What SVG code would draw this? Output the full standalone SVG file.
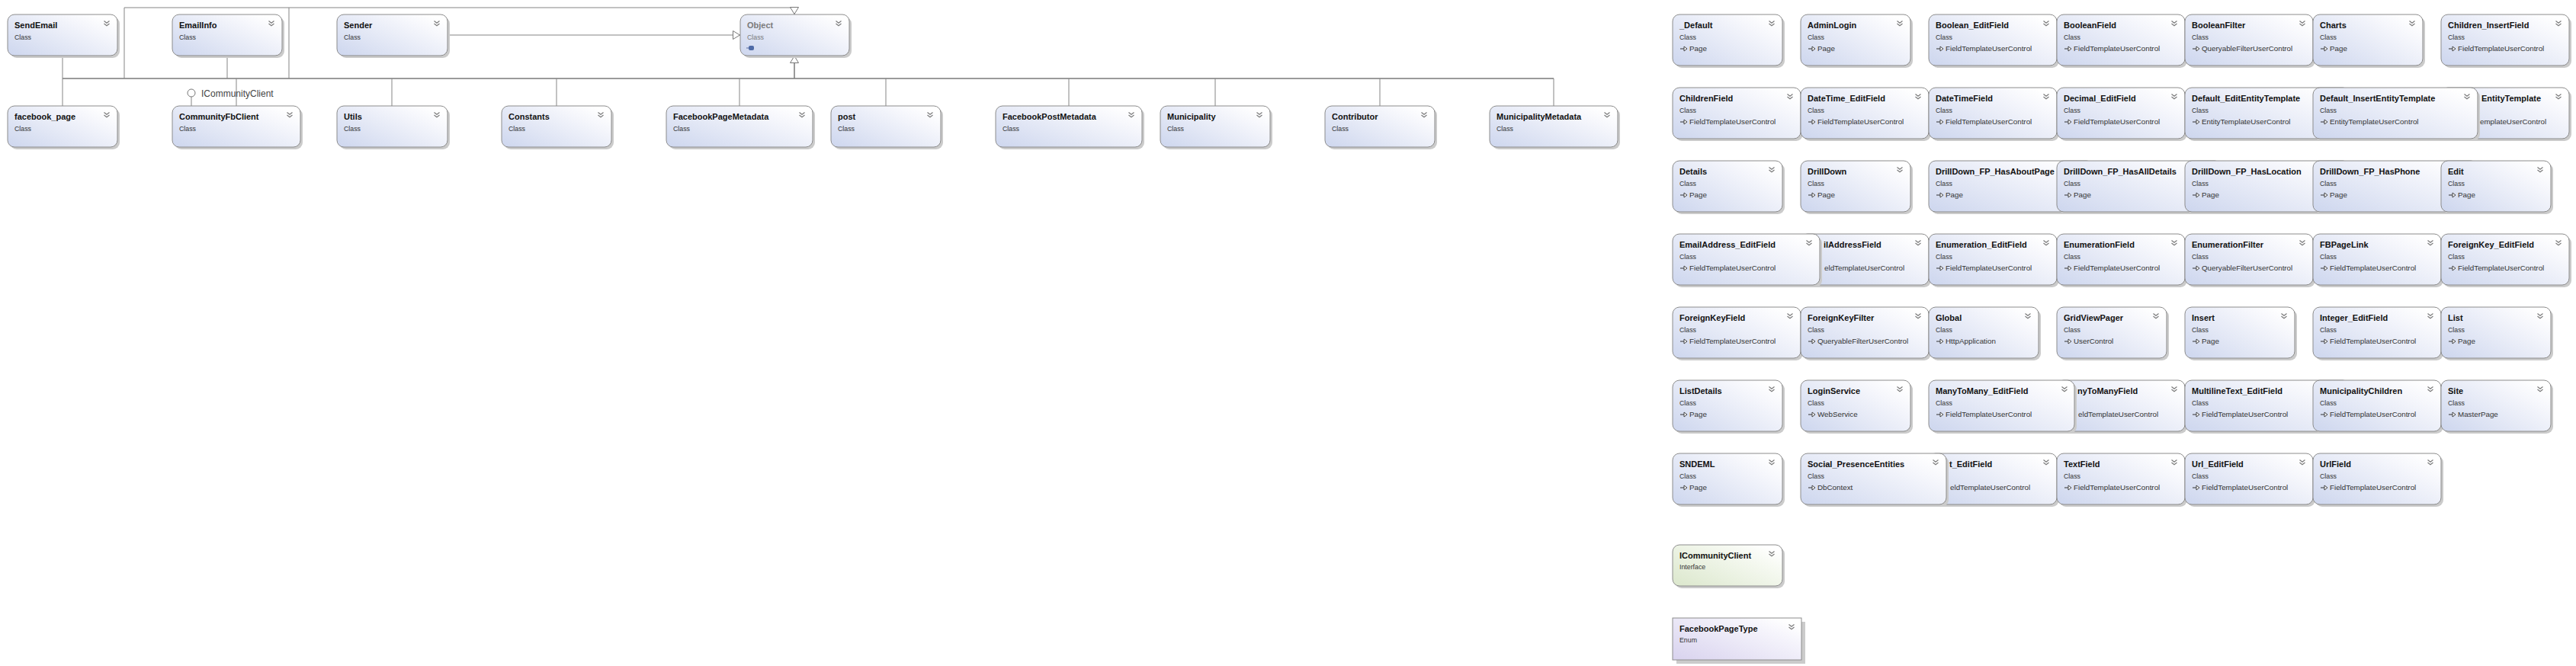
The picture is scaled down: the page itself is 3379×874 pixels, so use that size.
<svg xmlns="http://www.w3.org/2000/svg" xmlns:xlink="http://www.w3.org/1999/xlink" width="3379" height="874" viewBox="0 0 3379 874">
<style>
.sh{fill:#cbcbcb}
.bx{fill:url(#gc);stroke:#8c8c8c;stroke-width:1}
.bi{fill:url(#gi);stroke:#8c8c8c;stroke-width:1}
.be{fill:url(#ge);stroke:#8c8c8c;stroke-width:1}
.t{font-family:"Liberation Sans",Arial,sans-serif;font-weight:bold;font-size:11px;fill:#111}
.s{font-family:"Liberation Sans",Arial,sans-serif;font-size:8.8px;fill:#333}
.b{font-family:"Liberation Sans",Arial,sans-serif;font-size:9.8px;fill:#333}
.g{fill:#7a7a7a}
.ln{stroke:#858585;stroke-width:1;fill:none}
.bus{stroke:#7a7a7a;stroke-width:1.5;fill:none}
.lbl{font-family:"Liberation Sans",Arial,sans-serif;font-size:12px;fill:#444}
</style>
<defs>
<linearGradient id="gc" x1="0" y1="1" x2="1" y2="0.2"><stop offset="0" stop-color="#cdd6ee"/><stop offset="0.8" stop-color="#f6f7fc"/><stop offset="1" stop-color="#ffffff"/></linearGradient>
<linearGradient id="gi" x1="0" y1="1" x2="1" y2="0.2"><stop offset="0" stop-color="#dbe7cc"/><stop offset="0.8" stop-color="#f7faf3"/><stop offset="1" stop-color="#ffffff"/></linearGradient>
<linearGradient id="ge" x1="0" y1="1" x2="1" y2="0.2"><stop offset="0" stop-color="#d8d2ee"/><stop offset="0.8" stop-color="#f6f5fc"/><stop offset="1" stop-color="#ffffff"/></linearGradient>
<g id="chev"><path d="M-3.5,-3.5 L0,-0.8 L3.5,-3.5 M-3.5,0 L0,2.7 L3.5,0" fill="none" stroke="#7a7a7a" stroke-width="1.2"/></g>
<g id="inh"><path d="M0,0 H5" stroke="#333" stroke-width="1" fill="none"/><path d="M5,-3 L9,0 L5,3 Z" fill="#fff" stroke="#333" stroke-width="0.9"/></g>
<marker id="tri" viewBox="0 0 10 12" refX="10" refY="6" markerWidth="10" markerHeight="12" markerUnits="userSpaceOnUse" orient="auto"><path d="M0.5,0.5 L9.5,6 L0.5,11.5 Z" fill="#fff" stroke="#777" stroke-width="1"/></marker>
</defs>
<rect width="3379" height="874" fill="#ffffff"/>

<g id="connectors">
<path class="bus" d="M82,103 H2038"/>
<path class="ln" d="M163,103 V10 H1042 V19" marker-end="url(#tri)"/>
<path class="ln" d="M379,103 V10"/>
<path class="ln" d="M587,46 H971" marker-end="url(#tri)"/>
<path class="bus" d="M1042,103 V73" marker-end="url(#tri)"/>
<path class="ln" d="M82,73 V139"/>
<path class="ln" d="M298,73 V103"/>
<path class="ln" d="M310,103 V139"/>
<path class="ln" d="M514,103 V139"/>
<path class="ln" d="M730,103 V139"/>
<path class="ln" d="M970,103 V139"/>
<path class="ln" d="M1162,103 V139"/>
<path class="ln" d="M1402,103 V139"/>
<path class="ln" d="M1594,103 V139"/>
<path class="ln" d="M1810,103 V139"/>
<path class="ln" d="M2038,103 V139"/>
<path class="ln" d="M251,127 V139"/>
<circle cx="251" cy="122" r="5" fill="#fff" stroke="#777" stroke-width="1"/>
<text class="lbl" x="264" y="127">ICommunityClient</text>
</g>

<g id="nSendEmail" transform="translate(10,19)"><rect class="sh" x="3" y="3" width="144" height="54" rx="9"/><rect class="bx" width="144" height="54" rx="9"/><text class="t" x="9" y="18">SendEmail</text><text class="s" x="9" y="33">Class</text><use href="#chev" x="130" y="12"/></g>
<g id="nEmailInfo" transform="translate(226,19)"><rect class="sh" x="3" y="3" width="144" height="54" rx="9"/><rect class="bx" width="144" height="54" rx="9"/><text class="t" x="9" y="18">EmailInfo</text><text class="s" x="9" y="33">Class</text><use href="#chev" x="130" y="12"/></g>
<g id="nSender" transform="translate(442,19)"><rect class="sh" x="3" y="3" width="145" height="54" rx="9"/><rect class="bx" width="145" height="54" rx="9"/><text class="t" x="9" y="18">Sender</text><text class="s" x="9" y="33">Class</text><use href="#chev" x="131" y="12"/></g>
<g id="nObject" transform="translate(971,19)"><rect class="sh" x="3" y="3" width="143" height="54" rx="9"/><rect class="bx" width="143" height="54" rx="9"/><text class="t g" x="9" y="18">Object</text><text class="s g" x="9" y="33">Class</text><path d="M8,44 H11" stroke="#5a6f9e" stroke-width="1"/><rect x="11" y="41" width="7" height="6" rx="2" fill="#4f6aa6"/><use href="#chev" x="129" y="12"/></g>
<g id="nfacebook_page" transform="translate(10,139)"><rect class="sh" x="3" y="3" width="144" height="54" rx="9"/><rect class="bx" width="144" height="54" rx="9"/><text class="t" x="9" y="18">facebook_page</text><text class="s" x="9" y="33">Class</text><use href="#chev" x="130" y="12"/></g>
<g id="nCommunityFbClient" transform="translate(226,139)"><rect class="sh" x="3" y="3" width="168" height="54" rx="9"/><rect class="bx" width="168" height="54" rx="9"/><text class="t" x="9" y="18">CommunityFbClient</text><text class="s" x="9" y="33">Class</text><use href="#chev" x="154" y="12"/></g>
<g id="nUtils" transform="translate(442,139)"><rect class="sh" x="3" y="3" width="145" height="54" rx="9"/><rect class="bx" width="145" height="54" rx="9"/><text class="t" x="9" y="18">Utils</text><text class="s" x="9" y="33">Class</text><use href="#chev" x="131" y="12"/></g>
<g id="nConstants" transform="translate(658,139)"><rect class="sh" x="3" y="3" width="144" height="54" rx="9"/><rect class="bx" width="144" height="54" rx="9"/><text class="t" x="9" y="18">Constants</text><text class="s" x="9" y="33">Class</text><use href="#chev" x="130" y="12"/></g>
<g id="nFacebookPageMetadata" transform="translate(874,139)"><rect class="sh" x="3" y="3" width="192" height="54" rx="9"/><rect class="bx" width="192" height="54" rx="9"/><text class="t" x="9" y="18">FacebookPageMetadata</text><text class="s" x="9" y="33">Class</text><use href="#chev" x="178" y="12"/></g>
<g id="npost" transform="translate(1090,139)"><rect class="sh" x="3" y="3" width="144" height="54" rx="9"/><rect class="bx" width="144" height="54" rx="9"/><text class="t" x="9" y="18">post</text><text class="s" x="9" y="33">Class</text><use href="#chev" x="130" y="12"/></g>
<g id="nFacebookPostMetadata" transform="translate(1306,139)"><rect class="sh" x="3" y="3" width="192" height="54" rx="9"/><rect class="bx" width="192" height="54" rx="9"/><text class="t" x="9" y="18">FacebookPostMetadata</text><text class="s" x="9" y="33">Class</text><use href="#chev" x="178" y="12"/></g>
<g id="nMunicipality" transform="translate(1522,139)"><rect class="sh" x="3" y="3" width="144" height="54" rx="9"/><rect class="bx" width="144" height="54" rx="9"/><text class="t" x="9" y="18">Municipality</text><text class="s" x="9" y="33">Class</text><use href="#chev" x="130" y="12"/></g>
<g id="nContributor" transform="translate(1738,139)"><rect class="sh" x="3" y="3" width="144" height="54" rx="9"/><rect class="bx" width="144" height="54" rx="9"/><text class="t" x="9" y="18">Contributor</text><text class="s" x="9" y="33">Class</text><use href="#chev" x="130" y="12"/></g>
<g id="nMunicipalityMetadata" transform="translate(1954,139)"><rect class="sh" x="3" y="3" width="168" height="54" rx="9"/><rect class="bx" width="168" height="54" rx="9"/><text class="t" x="9" y="18">MunicipalityMetadata</text><text class="s" x="9" y="33">Class</text><use href="#chev" x="154" y="12"/></g>

<!-- Row 1 -->
<g id="n_Default" transform="translate(2194,19)"><rect class="sh" x="3" y="3" width="144" height="67" rx="9"/><rect class="bx" width="144" height="67" rx="9"/><text class="t" x="9" y="18">_Default</text><text class="s" x="9" y="33">Class</text><use href="#inh" x="10" y="45"/><text class="b" x="22" y="48">Page</text><use href="#chev" x="130" y="12"/></g>
<g id="nAdminLogin" transform="translate(2362,19)"><rect class="sh" x="3" y="3" width="144" height="67" rx="9"/><rect class="bx" width="144" height="67" rx="9"/><text class="t" x="9" y="18">AdminLogin</text><text class="s" x="9" y="33">Class</text><use href="#inh" x="10" y="45"/><text class="b" x="22" y="48">Page</text><use href="#chev" x="130" y="12"/></g>
<g id="nBoolean_EditField" transform="translate(2530,19)"><rect class="sh" x="3" y="3" width="168" height="67" rx="9"/><rect class="bx" width="168" height="67" rx="9"/><text class="t" x="9" y="18">Boolean_EditField</text><text class="s" x="9" y="33">Class</text><use href="#inh" x="10" y="45"/><text class="b" x="22" y="48">FieldTemplateUserControl</text><use href="#chev" x="154" y="12"/></g>
<g id="nBooleanField" transform="translate(2698,19)"><rect class="sh" x="3" y="3" width="168" height="67" rx="9"/><rect class="bx" width="168" height="67" rx="9"/><text class="t" x="9" y="18">BooleanField</text><text class="s" x="9" y="33">Class</text><use href="#inh" x="10" y="45"/><text class="b" x="22" y="48">FieldTemplateUserControl</text><use href="#chev" x="154" y="12"/></g>
<g id="nBooleanFilter" transform="translate(2866,19)"><rect class="sh" x="3" y="3" width="168" height="67" rx="9"/><rect class="bx" width="168" height="67" rx="9"/><text class="t" x="9" y="18">BooleanFilter</text><text class="s" x="9" y="33">Class</text><use href="#inh" x="10" y="45"/><text class="b" x="22" y="48">QueryableFilterUserControl</text><use href="#chev" x="154" y="12"/></g>
<g id="nCharts" transform="translate(3034,19)"><rect class="sh" x="3" y="3" width="144" height="67" rx="9"/><rect class="bx" width="144" height="67" rx="9"/><text class="t" x="9" y="18">Charts</text><text class="s" x="9" y="33">Class</text><use href="#inh" x="10" y="45"/><text class="b" x="22" y="48">Page</text><use href="#chev" x="130" y="12"/></g>
<g id="nChildren_InsertField" transform="translate(3202,19)"><rect class="sh" x="3" y="3" width="168" height="67" rx="9"/><rect class="bx" width="168" height="67" rx="9"/><text class="t" x="9" y="18">Children_InsertField</text><text class="s" x="9" y="33">Class</text><use href="#inh" x="10" y="45"/><text class="b" x="22" y="48">FieldTemplateUserControl</text><use href="#chev" x="154" y="12"/></g>

<!-- Row 2 -->
<g id="nChildrenField" transform="translate(2194,115)"><rect class="sh" x="3" y="3" width="168" height="67" rx="9"/><rect class="bx" width="168" height="67" rx="9"/><text class="t" x="9" y="18">ChildrenField</text><text class="s" x="9" y="33">Class</text><use href="#inh" x="10" y="45"/><text class="b" x="22" y="48">FieldTemplateUserControl</text><use href="#chev" x="154" y="12"/></g>
<g id="nDateTime_EditField" transform="translate(2362,115)"><rect class="sh" x="3" y="3" width="168" height="67" rx="9"/><rect class="bx" width="168" height="67" rx="9"/><text class="t" x="9" y="18">DateTime_EditField</text><text class="s" x="9" y="33">Class</text><use href="#inh" x="10" y="45"/><text class="b" x="22" y="48">FieldTemplateUserControl</text><use href="#chev" x="154" y="12"/></g>
<g id="nDateTimeField" transform="translate(2530,115)"><rect class="sh" x="3" y="3" width="168" height="67" rx="9"/><rect class="bx" width="168" height="67" rx="9"/><text class="t" x="9" y="18">DateTimeField</text><text class="s" x="9" y="33">Class</text><use href="#inh" x="10" y="45"/><text class="b" x="22" y="48">FieldTemplateUserControl</text><use href="#chev" x="154" y="12"/></g>
<g id="nDecimal_EditField" transform="translate(2698,115)"><rect class="sh" x="3" y="3" width="168" height="67" rx="9"/><rect class="bx" width="168" height="67" rx="9"/><text class="t" x="9" y="18">Decimal_EditField</text><text class="s" x="9" y="33">Class</text><use href="#inh" x="10" y="45"/><text class="b" x="22" y="48">FieldTemplateUserControl</text><use href="#chev" x="154" y="12"/></g>
<g id="nDefault_EditEntityTemplate" transform="translate(2866,115)"><rect class="sh" x="3" y="3" width="216" height="67" rx="9"/><rect class="bx" width="216" height="67" rx="9"/><text class="t" x="9" y="18">Default_EditEntityTemplate</text><text class="s" x="9" y="33">Class</text><use href="#inh" x="10" y="45"/><text class="b" x="22" y="48">EntityTemplateUserControl</text></g>
<g id="nEntityTemplate" transform="translate(3202,115)"><rect class="sh" x="3" y="3" width="168" height="67" rx="9"/><rect class="bx" width="168" height="67" rx="9"/><text class="t" x="53" y="18">EntityTemplate</text><text class="b" x="51" y="48">emplateUserControl</text><use href="#chev" x="154" y="12"/></g>
<g id="nDefault_InsertEntityTemplate" transform="translate(3034,115)"><rect class="sh" x="3" y="3" width="216" height="67" rx="9"/><rect class="bx" width="216" height="67" rx="9"/><text class="t" x="9" y="18">Default_InsertEntityTemplate</text><text class="s" x="9" y="33">Class</text><use href="#inh" x="10" y="45"/><text class="b" x="22" y="48">EntityTemplateUserControl</text><use href="#chev" x="202" y="12"/></g>

<!-- Row 3 -->
<g id="nDetails" transform="translate(2194,211)"><rect class="sh" x="3" y="3" width="144" height="67" rx="9"/><rect class="bx" width="144" height="67" rx="9"/><text class="t" x="9" y="18">Details</text><text class="s" x="9" y="33">Class</text><use href="#inh" x="10" y="45"/><text class="b" x="22" y="48">Page</text><use href="#chev" x="130" y="12"/></g>
<g id="nDrillDown" transform="translate(2362,211)"><rect class="sh" x="3" y="3" width="144" height="67" rx="9"/><rect class="bx" width="144" height="67" rx="9"/><text class="t" x="9" y="18">DrillDown</text><text class="s" x="9" y="33">Class</text><use href="#inh" x="10" y="45"/><text class="b" x="22" y="48">Page</text><use href="#chev" x="130" y="12"/></g>
<g id="nDrillDown_FP_HasAboutPage" transform="translate(2530,211)"><rect class="sh" x="3" y="3" width="216" height="67" rx="9"/><rect class="bx" width="216" height="67" rx="9"/><text class="t" x="9" y="18">DrillDown_FP_HasAboutPage</text><text class="s" x="9" y="33">Class</text><use href="#inh" x="10" y="45"/><text class="b" x="22" y="48">Page</text></g>
<g id="nDrillDown_FP_HasAllDetails" transform="translate(2698,211)"><rect class="sh" x="3" y="3" width="216" height="67" rx="9"/><rect class="bx" width="216" height="67" rx="9"/><text class="t" x="9" y="18">DrillDown_FP_HasAllDetails</text><text class="s" x="9" y="33">Class</text><use href="#inh" x="10" y="45"/><text class="b" x="22" y="48">Page</text></g>
<g id="nDrillDown_FP_HasLocation" transform="translate(2866,211)"><rect class="sh" x="3" y="3" width="216" height="67" rx="9"/><rect class="bx" width="216" height="67" rx="9"/><text class="t" x="9" y="18">DrillDown_FP_HasLocation</text><text class="s" x="9" y="33">Class</text><use href="#inh" x="10" y="45"/><text class="b" x="22" y="48">Page</text></g>
<g id="nDrillDown_FP_HasPhone" transform="translate(3034,211)"><rect class="sh" x="3" y="3" width="216" height="67" rx="9"/><rect class="bx" width="216" height="67" rx="9"/><text class="t" x="9" y="18">DrillDown_FP_HasPhone</text><text class="s" x="9" y="33">Class</text><use href="#inh" x="10" y="45"/><text class="b" x="22" y="48">Page</text></g>
<g id="nEdit" transform="translate(3202,211)"><rect class="sh" x="3" y="3" width="144" height="67" rx="9"/><rect class="bx" width="144" height="67" rx="9"/><text class="t" x="9" y="18">Edit</text><text class="s" x="9" y="33">Class</text><use href="#inh" x="10" y="45"/><text class="b" x="22" y="48">Page</text><use href="#chev" x="130" y="12"/></g>

<!-- Row 4 -->
<g id="nEmailAddressField" transform="translate(2362,307)"><rect class="sh" x="3" y="3" width="168" height="67" rx="9"/><rect class="bx" width="168" height="67" rx="9"/><text class="t" x="30" y="18">ilAddressField</text><text class="b" x="31" y="48">eldTemplateUserControl</text><use href="#chev" x="154" y="12"/></g>
<g id="nEmailAddress_EditField" transform="translate(2194,307)"><rect class="sh" x="3" y="3" width="193" height="67" rx="9"/><rect class="bx" width="193" height="67" rx="9"/><text class="t" x="9" y="18">EmailAddress_EditField</text><text class="s" x="9" y="33">Class</text><use href="#inh" x="10" y="45"/><text class="b" x="22" y="48">FieldTemplateUserControl</text><use href="#chev" x="179" y="12"/></g>
<g id="nEnumeration_EditField" transform="translate(2530,307)"><rect class="sh" x="3" y="3" width="168" height="67" rx="9"/><rect class="bx" width="168" height="67" rx="9"/><text class="t" x="9" y="18">Enumeration_EditField</text><text class="s" x="9" y="33">Class</text><use href="#inh" x="10" y="45"/><text class="b" x="22" y="48">FieldTemplateUserControl</text><use href="#chev" x="154" y="12"/></g>
<g id="nEnumerationField" transform="translate(2698,307)"><rect class="sh" x="3" y="3" width="168" height="67" rx="9"/><rect class="bx" width="168" height="67" rx="9"/><text class="t" x="9" y="18">EnumerationField</text><text class="s" x="9" y="33">Class</text><use href="#inh" x="10" y="45"/><text class="b" x="22" y="48">FieldTemplateUserControl</text><use href="#chev" x="154" y="12"/></g>
<g id="nEnumerationFilter" transform="translate(2866,307)"><rect class="sh" x="3" y="3" width="168" height="67" rx="9"/><rect class="bx" width="168" height="67" rx="9"/><text class="t" x="9" y="18">EnumerationFilter</text><text class="s" x="9" y="33">Class</text><use href="#inh" x="10" y="45"/><text class="b" x="22" y="48">QueryableFilterUserControl</text><use href="#chev" x="154" y="12"/></g>
<g id="nFBPageLink" transform="translate(3034,307)"><rect class="sh" x="3" y="3" width="168" height="67" rx="9"/><rect class="bx" width="168" height="67" rx="9"/><text class="t" x="9" y="18">FBPageLink</text><text class="s" x="9" y="33">Class</text><use href="#inh" x="10" y="45"/><text class="b" x="22" y="48">FieldTemplateUserControl</text><use href="#chev" x="154" y="12"/></g>
<g id="nForeignKey_EditField" transform="translate(3202,307)"><rect class="sh" x="3" y="3" width="168" height="67" rx="9"/><rect class="bx" width="168" height="67" rx="9"/><text class="t" x="9" y="18">ForeignKey_EditField</text><text class="s" x="9" y="33">Class</text><use href="#inh" x="10" y="45"/><text class="b" x="22" y="48">FieldTemplateUserControl</text><use href="#chev" x="154" y="12"/></g>

<!-- Row 5 -->
<g id="nForeignKeyField" transform="translate(2194,403)"><rect class="sh" x="3" y="3" width="168" height="67" rx="9"/><rect class="bx" width="168" height="67" rx="9"/><text class="t" x="9" y="18">ForeignKeyField</text><text class="s" x="9" y="33">Class</text><use href="#inh" x="10" y="45"/><text class="b" x="22" y="48">FieldTemplateUserControl</text><use href="#chev" x="154" y="12"/></g>
<g id="nForeignKeyFilter" transform="translate(2362,403)"><rect class="sh" x="3" y="3" width="168" height="67" rx="9"/><rect class="bx" width="168" height="67" rx="9"/><text class="t" x="9" y="18">ForeignKeyFilter</text><text class="s" x="9" y="33">Class</text><use href="#inh" x="10" y="45"/><text class="b" x="22" y="48">QueryableFilterUserControl</text><use href="#chev" x="154" y="12"/></g>
<g id="nGlobal" transform="translate(2530,403)"><rect class="sh" x="3" y="3" width="144" height="67" rx="9"/><rect class="bx" width="144" height="67" rx="9"/><text class="t" x="9" y="18">Global</text><text class="s" x="9" y="33">Class</text><use href="#inh" x="10" y="45"/><text class="b" x="22" y="48">HttpApplication</text><use href="#chev" x="130" y="12"/></g>
<g id="nGridViewPager" transform="translate(2698,403)"><rect class="sh" x="3" y="3" width="144" height="67" rx="9"/><rect class="bx" width="144" height="67" rx="9"/><text class="t" x="9" y="18">GridViewPager</text><text class="s" x="9" y="33">Class</text><use href="#inh" x="10" y="45"/><text class="b" x="22" y="48">UserControl</text><use href="#chev" x="130" y="12"/></g>
<g id="nInsert" transform="translate(2866,403)"><rect class="sh" x="3" y="3" width="144" height="67" rx="9"/><rect class="bx" width="144" height="67" rx="9"/><text class="t" x="9" y="18">Insert</text><text class="s" x="9" y="33">Class</text><use href="#inh" x="10" y="45"/><text class="b" x="22" y="48">Page</text><use href="#chev" x="130" y="12"/></g>
<g id="nInteger_EditField" transform="translate(3034,403)"><rect class="sh" x="3" y="3" width="168" height="67" rx="9"/><rect class="bx" width="168" height="67" rx="9"/><text class="t" x="9" y="18">Integer_EditField</text><text class="s" x="9" y="33">Class</text><use href="#inh" x="10" y="45"/><text class="b" x="22" y="48">FieldTemplateUserControl</text><use href="#chev" x="154" y="12"/></g>
<g id="nList" transform="translate(3202,403)"><rect class="sh" x="3" y="3" width="144" height="67" rx="9"/><rect class="bx" width="144" height="67" rx="9"/><text class="t" x="9" y="18">List</text><text class="s" x="9" y="33">Class</text><use href="#inh" x="10" y="45"/><text class="b" x="22" y="48">Page</text><use href="#chev" x="130" y="12"/></g>

<!-- Row 6 -->
<g id="nListDetails" transform="translate(2194,499)"><rect class="sh" x="3" y="3" width="144" height="67" rx="9"/><rect class="bx" width="144" height="67" rx="9"/><text class="t" x="9" y="18">ListDetails</text><text class="s" x="9" y="33">Class</text><use href="#inh" x="10" y="45"/><text class="b" x="22" y="48">Page</text><use href="#chev" x="130" y="12"/></g>
<g id="nLoginService" transform="translate(2362,499)"><rect class="sh" x="3" y="3" width="144" height="67" rx="9"/><rect class="bx" width="144" height="67" rx="9"/><text class="t" x="9" y="18">LoginService</text><text class="s" x="9" y="33">Class</text><use href="#inh" x="10" y="45"/><text class="b" x="22" y="48">WebService</text><use href="#chev" x="130" y="12"/></g>
<g id="nManyToManyField" transform="translate(2698,499)"><rect class="sh" x="3" y="3" width="168" height="67" rx="9"/><rect class="bx" width="168" height="67" rx="9"/><text class="t" x="27" y="18">nyToManyField</text><text class="b" x="28" y="48">eldTemplateUserControl</text><use href="#chev" x="154" y="12"/></g>
<g id="nManyToMany_EditField" transform="translate(2530,499)"><rect class="sh" x="3" y="3" width="191" height="67" rx="9"/><rect class="bx" width="191" height="67" rx="9"/><text class="t" x="9" y="18">ManyToMany_EditField</text><text class="s" x="9" y="33">Class</text><use href="#inh" x="10" y="45"/><text class="b" x="22" y="48">FieldTemplateUserControl</text><use href="#chev" x="178" y="12"/></g>
<g id="nMultilineText_EditField" transform="translate(2866,499)"><rect class="sh" x="3" y="3" width="216" height="67" rx="9"/><rect class="bx" width="216" height="67" rx="9"/><text class="t" x="9" y="18">MultilineText_EditField</text><text class="s" x="9" y="33">Class</text><use href="#inh" x="10" y="45"/><text class="b" x="22" y="48">FieldTemplateUserControl</text></g>
<g id="nMunicipalityChildren" transform="translate(3034,499)"><rect class="sh" x="3" y="3" width="168" height="67" rx="9"/><rect class="bx" width="168" height="67" rx="9"/><text class="t" x="9" y="18">MunicipalityChildren</text><text class="s" x="9" y="33">Class</text><use href="#inh" x="10" y="45"/><text class="b" x="22" y="48">FieldTemplateUserControl</text><use href="#chev" x="154" y="12"/></g>
<g id="nSite" transform="translate(3202,499)"><rect class="sh" x="3" y="3" width="144" height="67" rx="9"/><rect class="bx" width="144" height="67" rx="9"/><text class="t" x="9" y="18">Site</text><text class="s" x="9" y="33">Class</text><use href="#inh" x="10" y="45"/><text class="b" x="22" y="48">MasterPage</text><use href="#chev" x="130" y="12"/></g>

<!-- Row 7 -->
<g id="nSNDEML" transform="translate(2194,595)"><rect class="sh" x="3" y="3" width="144" height="67" rx="9"/><rect class="bx" width="144" height="67" rx="9"/><text class="t" x="9" y="18">SNDEML</text><text class="s" x="9" y="33">Class</text><use href="#inh" x="10" y="45"/><text class="b" x="22" y="48">Page</text><use href="#chev" x="130" y="12"/></g>
<g id="nText_EditField" transform="translate(2530,595)"><rect class="sh" x="3" y="3" width="168" height="67" rx="9"/><rect class="bx" width="168" height="67" rx="9"/><text class="t" x="27" y="18">t_EditField</text><text class="b" x="28" y="48">eldTemplateUserControl</text><use href="#chev" x="154" y="12"/></g>
<g id="nSocial_PresenceEntities" transform="translate(2362,595)"><rect class="sh" x="3" y="3" width="191" height="67" rx="9"/><rect class="bx" width="191" height="67" rx="9"/><text class="t" x="9" y="18">Social_PresenceEntities</text><text class="s" x="9" y="33">Class</text><use href="#inh" x="10" y="45"/><text class="b" x="22" y="48">DbContext</text><use href="#chev" x="177" y="12"/></g>
<g id="nTextField" transform="translate(2698,595)"><rect class="sh" x="3" y="3" width="168" height="67" rx="9"/><rect class="bx" width="168" height="67" rx="9"/><text class="t" x="9" y="18">TextField</text><text class="s" x="9" y="33">Class</text><use href="#inh" x="10" y="45"/><text class="b" x="22" y="48">FieldTemplateUserControl</text><use href="#chev" x="154" y="12"/></g>
<g id="nUrl_EditField" transform="translate(2866,595)"><rect class="sh" x="3" y="3" width="168" height="67" rx="9"/><rect class="bx" width="168" height="67" rx="9"/><text class="t" x="9" y="18">Url_EditField</text><text class="s" x="9" y="33">Class</text><use href="#inh" x="10" y="45"/><text class="b" x="22" y="48">FieldTemplateUserControl</text><use href="#chev" x="154" y="12"/></g>
<g id="nUrlField" transform="translate(3034,595)"><rect class="sh" x="3" y="3" width="168" height="67" rx="9"/><rect class="bx" width="168" height="67" rx="9"/><text class="t" x="9" y="18">UrlField</text><text class="s" x="9" y="33">Class</text><use href="#inh" x="10" y="45"/><text class="b" x="22" y="48">FieldTemplateUserControl</text><use href="#chev" x="154" y="12"/></g>

<g id="nICommunityClient" transform="translate(2194,715)"><rect class="sh" x="3" y="3" width="144" height="54" rx="9"/><rect class="bi" width="144" height="54" rx="9"/><text class="t" x="9" y="18">ICommunityClient</text><text class="s" x="9" y="32">Interface</text><use href="#chev" x="130" y="12"/></g>
<g id="nFacebookPageType" transform="translate(2194,811)"><rect class="sh" x="5" y="5" width="169" height="55"/><rect class="be" width="169" height="55"/><text class="t" x="9" y="18">FacebookPageType</text><text class="s" x="9" y="32">Enum</text><use href="#chev" x="156" y="12"/></g>
</svg>
